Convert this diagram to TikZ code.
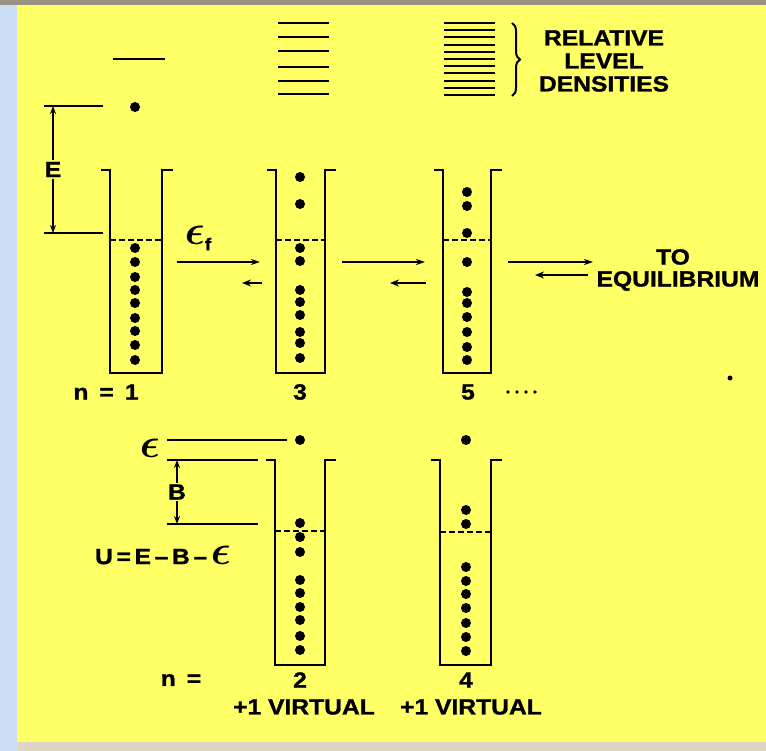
\documentclass[tikz,border=0pt]{standalone}
\usepackage{fontspec}
\usepackage{bm}
\usepackage{graphicx}
\setsansfont{Liberation Sans}[FakeStretch=1.12, BoldFeatures={FakeBold=1.2}]
\usetikzlibrary{arrows.meta, positioning, decorations.pathreplacing}
\definecolor{padyellow}{HTML}{FFFF66}
\definecolor{frameblue}{HTML}{C9DDF4}
\definecolor{framegray}{HTML}{9C9284}
\definecolor{framebeige}{HTML}{DDD5C5}
\newcommand\eps{\scalebox{2}{$\bm\epsilon$}}

\begin{document}
\begin{tikzpicture}[x=1pt, y=-1pt,
      wall/.style={line width=2.6pt, line join=miter},
      fermi/.style={line width=2.6pt, dash pattern=on 6pt off 3pt},
      nucleon/.style={circle, fill=black, inner sep=0pt, minimum size=10pt},
      lvl/.style={line width=2.2pt},
      lbl/.style={font=\sffamily\bfseries\fontsize{22}{23}\selectfont,
        inner sep=0.5pt, align=center},
      fwd/.style={line width=1.2pt, -{Stealth[length=9pt, width=6pt]}},
      bwd/.style={line width=2pt, -{Stealth[length=9pt, width=7pt]}},
      gap/.style={line width=1.6pt,
        {Stealth[length=8pt, width=6pt]}-{Stealth[length=8pt, width=6pt]}}
    ]
      \fill[padyellow] (0,0) rectangle (766,751);
      \fill[frameblue] (0,0) rectangle (17,751);
      \fill[framegray] (0,0) rectangle (766,5);
      \fill[framebeige] (17,742) rectangle (766,751);

      \foreach \xl/\xr/\yt/\yb/\yd in {110/162/170/373/240, 276/325/170/373/240,
          443/491/170/373/240, 275/325/460/665/531, 440/491/460/665/532} {
        \draw[wall] (\xl-9,\yt) -- (\xl,\yt) -- (\xl,\yb) -- (\xr,\yb)
          -- (\xr,\yt) -- (\xr+11,\yt);
        \draw[fermi] (\xl,\yd) -- (\xr,\yd);
      }
      \foreach \x/\ys in {135/{107,248,262,277,290,303,318,331,345,360},
          300/{177,204,248,261,290,302,315,332,343,358},
          467/{192,206,233,262,292,303,317,332,347,360},
          300/{440,523,537,552,580,593,607,620,636,650},
          466/{440,510,524,567,581,594,608,623,637,651}} {
        \foreach \y in \ys
          \node[nucleon] at (\x,\y) {};
      }
      \node[nucleon, minimum size=5pt] (speck) at (730,378) {};

      \draw[lvl] (113,59) -- (165,59);
      \foreach \y in {23,37,51,67,81,94}
        \draw[lvl] (278,\y) -- (329,\y);
      \foreach \i in {0,...,10}
        \draw[lvl, line width=2pt] (444,23+7.2*\i) -- (495,23+7.2*\i);
      \draw[line width=2pt, decorate, decoration={brace, amplitude=8pt}]
        (512,23) -- (512,96);
      \node[lbl] (density) at (604,61) {RELATIVE\\LEVEL\\DENSITIES};

      \draw[lvl, line width=2pt] (44,106) -- (103,106);
      \draw[lvl, line width=2pt] (44,233) -- (103,233);
      \coordinate (etop) at (53,106);
      \coordinate (ebot) at (53,233);
      \draw[gap] (etop) -- node[lbl, fill=padyellow, inner sep=2pt] (elabel) {E} (ebot);

      \draw[lvl, line width=2pt] (167,440) -- (287,440);
      \draw[lvl, line width=2pt] (167,460) -- (258,460);
      \draw[lvl, line width=2pt] (167,524) -- (258,524);
      \coordinate (btop) at (177,460);
      \coordinate (bbot) at (177,524);
      \draw[gap] (btop) -- node[lbl, fill=padyellow, inner sep=1pt] (blabel) {B} (bbot);
      \node[lbl] (epslabel) at (150,448) {\eps};
      \node[lbl] (ulabel) at (163,555) {U\,=\,E\,–\,B\,–\,\eps};

      \coordinate (oneout) at (177,262);
      \coordinate (threein) at (260,262);
      \coordinate (threeout) at (262,283);
      \coordinate (onein) at (242,283);
      \coordinate (threefwd) at (342,262);
      \coordinate (fivein) at (425,262);
      \coordinate (fiveout) at (426,283);
      \coordinate (threeback) at (390,283);
      \coordinate (fivefwd) at (508,262);
      \coordinate (eqin) at (593,262);
      \coordinate (eqout) at (588,275);
      \coordinate (fiveback) at (535,275);
      \draw[fwd] (oneout) -- (threein);
      \draw[bwd] (threeout) -- (onein);
      \draw[fwd] (threefwd) -- (fivein);
      \draw[bwd] (fiveout) -- (threeback);
      \draw[fwd] (fivefwd) -- (eqin);
      \draw[bwd] (eqout) -- (fiveback);
      \node[lbl] (fermilabel) at (198,238) {\eps{\fontsize{17}{17}\selectfont\raisebox{-6pt}{f}}};

      \node[lbl] (eqlabel) at (678,281) {EQUILIBRIUM};
      \node[lbl] (tolabel) at (673,257) {TO};

      \node[lbl] (nonelabel) at (106,392) {n\enspace=\enspace1};
      \node[lbl] (nthree) at (300,392) {3};
      \node[lbl] (nfive) at (468,392) {5};
      \foreach \x in {508,517,526,535}
        \fill (\x,392) circle[radius=1.8pt];

      \node[lbl] (nlower) at (181,680) {n\enspace=};
      \node[lbl] (ntwo) at (300,680) {2};
      \node[lbl] (nfour) at (466,680) {4};
      \node[lbl] (vtwo) at (304,707) {+1 VIRTUAL};
      \node[lbl] (vfour) at (471,707) {+1 VIRTUAL};
    \end{tikzpicture}
\end{document}
